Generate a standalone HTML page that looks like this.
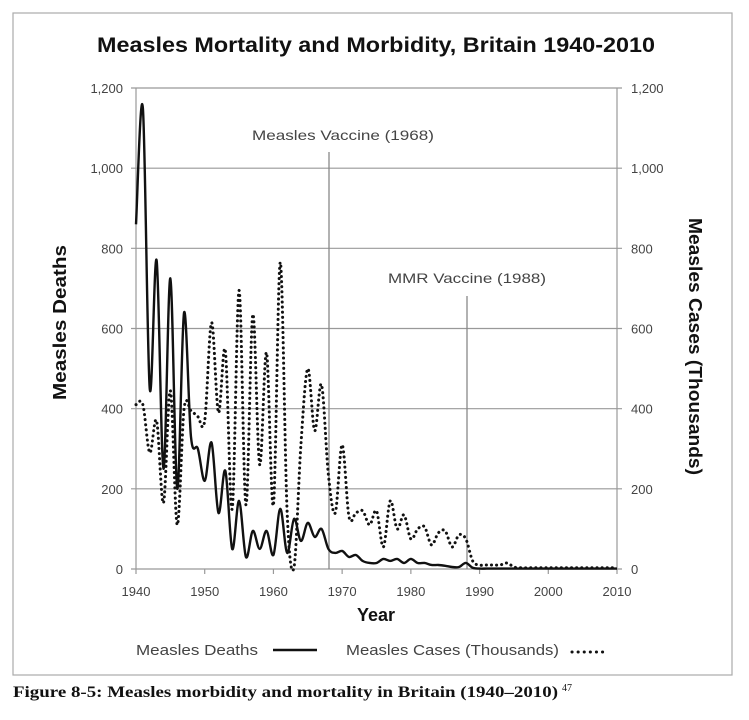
<!DOCTYPE html>
<html><head><meta charset="utf-8"><style>
body{margin:0;background:#fff;width:749px;height:720px;overflow:hidden}
svg{display:block}
text{font-family:"Liberation Sans",sans-serif}
</style></head><body>
<svg id="s" width="749" height="720" xmlns="http://www.w3.org/2000/svg">
<rect x="13" y="13" width="719" height="662" fill="#fff" stroke="#aaa" stroke-width="1.2"/>
<text x="97" y="52" font-size="21" font-weight="bold" fill="#111" textLength="558" lengthAdjust="spacingAndGlyphs">Measles Mortality and Morbidity, Britain 1940-2010</text>
<g id="grid" stroke="#999" stroke-width="1.2"></g>
<g font-size="13" fill="#444" id="lab"></g>
<line x1="329" y1="152" x2="329" y2="569" stroke="#888" stroke-width="1.3"/>
<line x1="467" y1="296" x2="467" y2="569" stroke="#888" stroke-width="1.3"/>
<text x="252" y="140" font-size="14" fill="#444" textLength="182" lengthAdjust="spacingAndGlyphs">Measles Vaccine (1968)</text>
<text x="388" y="283" font-size="14" fill="#444" textLength="158" lengthAdjust="spacingAndGlyphs">MMR Vaccine (1988)</text>
<path id="cases" fill="none" stroke="#111" stroke-width="3" stroke-linecap="round" stroke-dasharray="0.1,5"/>
<path id="deaths" fill="none" stroke="#111" stroke-width="2.4"/>
<text transform="translate(66,400) rotate(-90)" font-size="18" font-weight="bold" fill="#111" textLength="155" lengthAdjust="spacingAndGlyphs">Measles Deaths</text>
<text transform="translate(689,218) rotate(90)" font-size="18" font-weight="bold" fill="#111" textLength="257" lengthAdjust="spacingAndGlyphs">Measles Cases (Thousands)</text>
<text x="376" y="621" font-size="18" font-weight="bold" text-anchor="middle" fill="#111">Year</text>
<text x="136" y="655" font-size="15" fill="#444" textLength="122" lengthAdjust="spacingAndGlyphs">Measles Deaths</text>
<line x1="273" y1="650" x2="317" y2="650" stroke="#111" stroke-width="2.4"/>
<text x="346" y="655" font-size="15" fill="#444" textLength="213" lengthAdjust="spacingAndGlyphs">Measles Cases (Thousands)</text>
<line x1="572" y1="652" x2="608" y2="652" stroke="#111" stroke-width="3" stroke-linecap="round" stroke-dasharray="0.1,6"/>
<text x="13" y="697" font-size="16" font-weight="bold" fill="#111" style="font-family:'Liberation Serif',serif"><tspan textLength="545" lengthAdjust="spacingAndGlyphs">Figure 8-5: Measles morbidity and mortality in Britain (1940–2010)</tspan><tspan font-size="10" font-weight="normal" dx="4" dy="-6">47</tspan></text>
</svg>
<script>
var X0=136,X1=617,Y0=569,Y1=88;
function px(yr){return X0+(yr-1940)*(X1-X0)/70}
function py(v){return Y0-v*(Y0-Y1)/1200}
var g=document.getElementById('grid'),lab=document.getElementById('lab'),NS='http://www.w3.org/2000/svg';
function el(p,t,a,txt){var e=document.createElementNS(NS,t);for(var k in a)e.setAttribute(k,a[k]);if(txt)e.textContent=txt;p.appendChild(e);return e}
for(var v=0;v<=1200;v+=200){var y=py(v);el(g,'line',{x1:X0-5,x2:X1+5,y1:y,y2:y});
var s=v>=1000?(v/1000|0)+','+String(v%1000).padStart(3,'0'):String(v);
el(lab,'text',{x:X0-13,y:y+5,'text-anchor':'end'},s);el(lab,'text',{x:X1+14,y:y+5},s);}
el(g,'line',{x1:X0,x2:X0,y1:Y1,y2:Y0});el(g,'line',{x1:X1,x2:X1,y1:Y1,y2:Y0});
for(var yr=1940;yr<=2010;yr+=10){var x=px(yr);el(g,'line',{x1:x,x2:x,y1:Y0,y2:Y0+5});el(lab,'text',{x:x,y:Y0+27,'text-anchor':'middle'},String(yr));}
var D=[860,1150,450,770,250,725,200,640,330,300,220,315,140,245,50,170,30,95,50,95,35,150,40,125,70,115,80,100,50,40,45,30,35,20,15,15,25,20,25,15,25,15,15,10,10,8,5,5,15,3];
while(D.length<71)D.push(1);
var C=[410,410,290,370,165,445,110,400,395,380,370,615,390,545,150,695,160,635,260,540,160,765,140,5,310,500,345,460,235,140,310,130,140,145,110,145,55,170,100,135,75,100,105,60,90,95,55,85,75,20,10,10,10,10,15,5];
while(C.length<71)C.push(3);
function path(a){var p=a.map(function(v,i){return[px(1940+i),py(v)]});var d='M'+p[0][0]+','+p[0][1];
for(var i=0;i<p.length-1;i++){var a0=p[Math.max(i-1,0)],a1=p[i],a2=p[i+1],a3=p[Math.min(i+2,p.length-1)];
d+=' C'+(a1[0]+(a2[0]-a0[0])/6)+','+(a1[1]+(a2[1]-a0[1])/6)+' '+(a2[0]-(a3[0]-a1[0])/6)+','+(a2[1]-(a3[1]-a1[1])/6)+' '+a2[0]+','+a2[1];}
return d}
document.getElementById('deaths').setAttribute('d',path(D));
document.getElementById('cases').setAttribute('d',path(C));
</script>
</body></html>
